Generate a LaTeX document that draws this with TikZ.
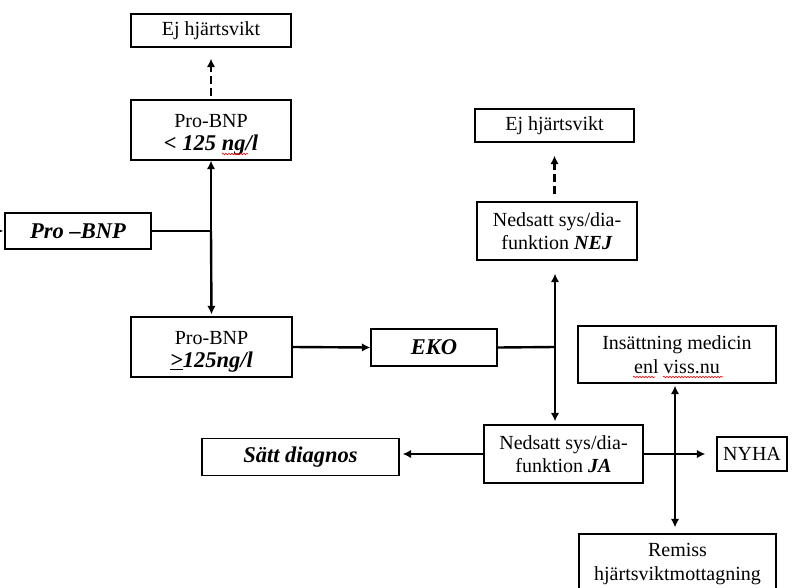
\documentclass[tikz,border=0pt]{standalone}
\usepackage{fontspec}
\setmainfont{Liberation Serif}
\usetikzlibrary{arrows.meta,decorations.pathmorphing}
\tikzset{
  box/.style={draw, line width=1.3pt, inner sep=0pt, align=center,
              font=\fontsize{20}{23.5}\selectfont},
  conn/.style={line width=2.4pt},
  arr/.style={conn, -{Latex[length=8.5pt,width=8.5pt]}},
  darr/.style={arr, dash pattern=on 8pt off 4pt},
  wavy/.style={red, line width=0.6pt, decorate,
               decoration={snake, amplitude=0.8pt, segment length=3pt}},
}
\newcommand\bitxt[1]{{\fontsize{22.5}{23.5}\selectfont\bfseries\itshape #1}}
\begin{document}
\begin{tikzpicture}[x=1pt,y=-1pt]
\useasboundingbox (0,0) rectangle (795,587);
% boxes
\node[box, minimum width=160pt, minimum height=33pt] (ej1) at (211,30.5) {Ej hjärtsvikt};
\node[box, minimum width=160pt, minimum height=60pt] (lo) at (211,130) {\rule{0pt}{23pt}Pro-BNP\\\bitxt{< 125 ng/l}};
\node[box, minimum width=146pt, minimum height=36pt] (pb) at (78,231) {\bitxt{Pro –BNP}};
\node[box, minimum width=161pt, minimum height=60pt] (hi) at (211.5,347) {\rule{0pt}{23pt}Pro-BNP\\\bitxt{\underline{>}125ng/l}};
\node[box, minimum width=126pt, minimum height=37pt] (eko) at (434,347.5) {\bitxt{EKO}};
\node[box, minimum width=159pt, minimum height=33pt] (ej2) at (554.5,125.5) {Ej hjärtsvikt};
\node[box, minimum width=160pt, minimum height=58pt] (nej) at (557,231) {Nedsatt sys/dia-\\funktion \textbf{\textit{NEJ}}};
\node[box, minimum width=159pt, minimum height=58pt] (ja) at (563.5,454) {Nedsatt sys/dia-\\funktion \textbf{\textit{JA}}};
\node[box, minimum width=197pt, minimum height=37pt] (sd) at (300.5,457) {\bitxt{Sätt diagnos}};
\node[box, minimum width=70pt, minimum height=34pt] (nyha) at (752,454) {NYHA};
\node[box, minimum width=198pt, minimum height=57pt] (ins) at (677,354.5) {Insättning medicin\\enl viss.nu};
\node[box, minimum width=197pt, minimum height=60pt] (rem) at (677.5,564) {Remiss\\hjärtsviktmottagning};
% junctions
\coordinate (j1) at (211,231);
\coordinate (j2) at (555,347);
\coordinate (j3) at (675,454);
\coordinate (stub) at (-8,231);
% connectors
\draw[darr, shorten <=3pt, shorten >=11pt] (lo.north) -- (ej1.south);
\draw[darr, shorten <=7pt, shorten >=13pt] (nej.north -| ej2.south) -- (ej2.south);
\draw[arr, shorten >=1pt] (stub) -- (pb.west);
\draw[conn] (pb.east) -- (j1);
\draw[arr] (j1) -- (lo.south);
\draw[arr, shorten >=2pt] (j1) -- (hi.north);
\draw[arr] (hi.east) -- (eko.west);
\draw[conn] (eko.east) -- (j2);
\draw[arr, shorten >=13pt] (j2) -- (j2 |- nej.south);
\draw[arr, shorten >=3pt] (j2) -- (j2 |- ja.north);
\draw[arr, shorten >=3pt] (ja.west) -- (sd.east |- ja.west);
\draw[arr, shorten >=11pt] (ja.east) -- (nyha.west);
\draw[arr, shorten >=2pt] (j3) -- (j3 |- ins.south);
\draw[arr, shorten >=6pt] (j3) -- (j3 |- rem.north);
% spell-check underlines
\draw[wavy] (222,154) -- (248,154);
\draw[wavy] (633,377) -- (655,377);
\draw[wavy] (663,377) -- (723,377);
\end{tikzpicture}
\end{document}
